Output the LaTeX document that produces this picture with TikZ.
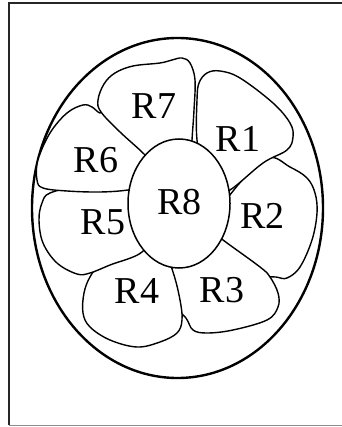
\documentclass[tikz,border=0pt]{standalone}
\usepackage{fontspec}
\setmainfont{Liberation Serif}
\usetikzlibrary{positioning,shapes.geometric}
\tikzset{
  frameline/.style={
    line width=1.6pt,
    draw=black!85
  },
  outerring/.style={
    line width=2.4pt,
    draw=black
  },
  petal/.style={
    line width=1.4pt,
    draw=black,
    fill=white,
    line join=round
  },
  core/.style={
    ellipse,
    line width=1.5pt,
    draw=black,
    fill=white
  },
  petallabel/.style={
    font=\fontsize{38}{42}\selectfont,
    inner sep=0pt,
    anchor=center
  }
}
\newcommand{\petal}[3]{%
  \draw[petal] plot[smooth cycle, tension=0.6] coordinates {#3};
  \node[petallabel] (#1) at (#2) {#1};
}

\begin{document}
\begin{tikzpicture}[x=1pt,y=-1pt]
\useasboundingbox (0,0) rectangle (341,427);

% Frame.
\draw[frameline] (9,425) |- (345,3);
\draw[black!45, line width=1pt] (9,425.5) -- (345,425.5);

% Outer ring.
\draw[outerring] (177.5,208) ellipse [x radius=145.5, y radius=170];

% Petals, each one tucked under the next.
\petal{R2}{262.5,215.5}{(212,225) (238,185) (268,158) (290,167) (307,178)
  (315,193) (317,213) (312,240) (300,267) (287,278) (276,277) (258,274)
  (225,250)}
\petal{R3}{222,290}{(200,222) (223,240) (260,267) (270,277) (278,293)
  (278,307) (267,320) (233,330) (207,333) (193,330) (186,318) (172,300)
  (175,255)}
\petal{R4}{137,291}{(160,240) (173,272) (180,300) (182,320) (177,333)
  (160,342) (137,347) (110,340) (90,327) (83,313) (84,293) (90,277)
  (100,266) (140,240)}
\petal{R5}{103,222.5}{(150,230) (142,252) (110,265) (90,273) (77,274)
  (57,263) (43,243) (39,220) (42,203) (50,193) (80,187) (140,186)}
\petal{R6}{96,160}{(150,185) (128,190) (100,192) (67,191) (43,188)
  (37,180) (38,160) (50,133) (67,113) (83,105) (92,107) (100,113)
  (110,112) (155,165)}
\petal{R7}{154,106}{(165,178) (145,155) (120,132) (101,112) (98,100)
  (104,84) (115,73) (133,66) (160,63) (172,60) (182,58) (190,63)
  (195,80) (194,110) (192,140) (190,178)}
\petal{R1}{238,139}{(205,175) (197,140) (197,100) (199,83) (207,73)
  (220,71) (240,78) (273,103) (290,123) (293,137) (287,150) (263,163)
  (230,190) (215,192)}

% Centre.
\node[core, minimum width=102pt, minimum height=129pt, inner sep=0pt]
  (core) at (179,203.5) {};
\node[petallabel] (R8) at (179.5,202.5) {R8};

\end{tikzpicture}
\end{document}
